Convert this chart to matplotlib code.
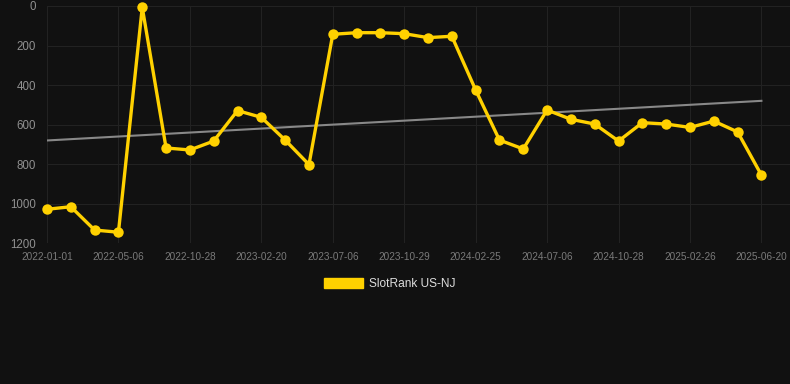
import matplotlib
matplotlib.use("Agg")
import matplotlib.pyplot as plt
import matplotlib.patches as mpatches
import numpy as np

series_name = "SlotRank US-NJ"
ranks = [1028, 1015, 1133, 1144, 7, 718, 728, 683, 529, 563, 678, 802,
         143, 135, 135, 140, 160, 153, 425, 678, 723, 526, 573, 597,
         683, 590, 597, 614, 582, 637, 855]
tick_labels = ["2022-01-01", "2022-05-06", "2022-10-28", "2023-02-20",
               "2023-07-06", "2023-10-29", "2024-02-25", "2024-07-06",
               "2024-10-28", "2025-02-26", "2025-06-20"]
y_ticks = [0, 200, 400, 600, 800, 1000, 1200]

bg = "#111111"
yellow = "#FFD100"

fig = plt.figure(figsize=(7.9, 3.84), dpi=100, facecolor=bg)
ax = fig.add_axes([47 / 790, 1 - 243.3 / 384, 1 - 47 / 790, (243.3 - 6) / 384])
ax.set_facecolor(bg)

x = np.arange(len(ranks))
coef = np.polyfit(x, ranks, 1)
ax.plot(x, np.polyval(coef, x), color="#888888", lw=1.5, zorder=2)
ax.plot(x, ranks, color=yellow, lw=2.4, marker="o", markersize=7.5,
        markeredgewidth=0, zorder=3, clip_on=False)

ax.set_ylim(1200, 0)
ax.set_xlim(0, 31.2)
ax.set_yticks(y_ticks)
ax.set_yticklabels([str(v) for v in y_ticks], fontfamily="Liberation Sans",
                   fontsize=8.3, color="#909090")
tick_pos = x[::3]
ax.set_xticks(tick_pos)
ax.set_xticklabels(tick_labels, fontfamily="Liberation Sans", fontsize=7.2,
                   color="#7a7a7a")
ax.tick_params(axis="both", length=0)
ax.tick_params(axis="y", pad=8)
ax.tick_params(axis="x", pad=6)
ax.grid(True, color="#222222", lw=0.8)
ax.set_axisbelow(True)
for s in ax.spines.values():
    s.set_visible(False)

handle = mpatches.Patch(color=yellow, label=series_name)
fig.legend(handles=[handle], loc="center", bbox_to_anchor=(389.5 / 790, 1 - 284 / 384),
           frameon=False, handlelength=3.3, handleheight=1.0, handletextpad=0.5,
           prop={"family": "Liberation Sans", "size": 8.6}, labelcolor="#dddddd")

fig.savefig("out.png", dpi=100, facecolor=bg)
